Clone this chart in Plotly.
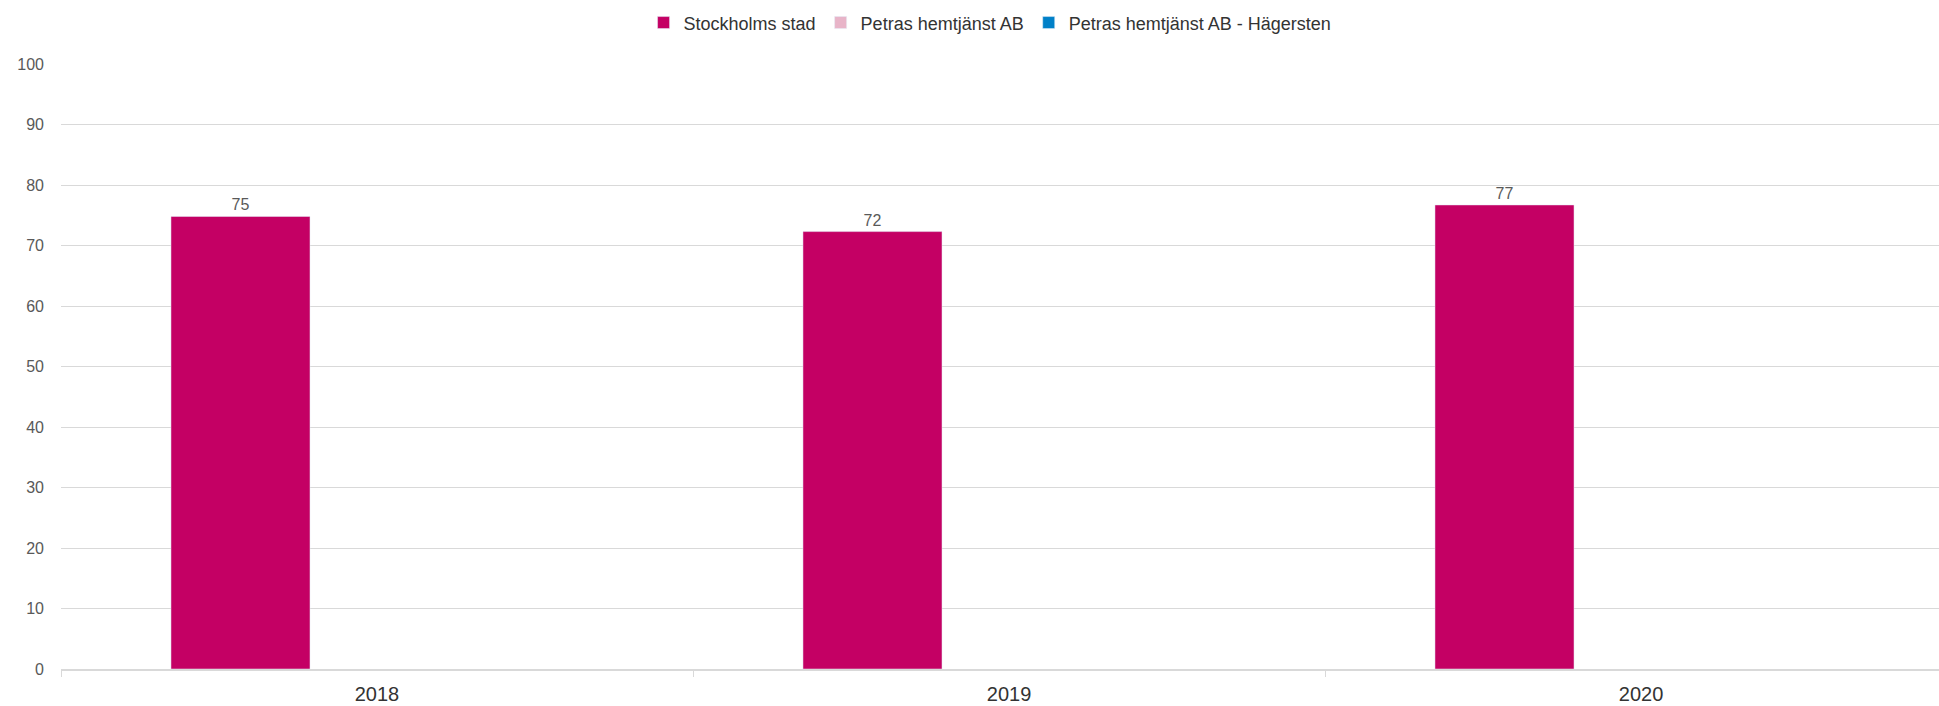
import plotly.graph_objects as go

years = ["2018", "2019", "2020"]
series_names = ["Stockholms stad", "Petras hemtjänst AB", "Petras hemtjänst AB - Hägersten"]
stockholm = [74.8, 72.3, 76.7]
petras = [None, None, None]
hagersten = [None, None, None]
colors = ["#C40064", "#E8B4C8", "#0080C8"]

fig = go.Figure()
for name, vals, col in zip(series_names, [stockholm, petras, hagersten], colors):
    fig.add_trace(go.Bar(
        x=years, y=vals, name=name, marker_color=col,
        width=0.22, offset=-0.326,
        text=[None if v is None else f"{v:.0f}" for v in vals],
        textposition="outside", cliponaxis=False,
        textfont=dict(size=16, color="#595959"),
    ))

fig.update_layout(
    width=1939, height=706,
    barmode="group",
    plot_bgcolor="white", paper_bgcolor="white",
    font=dict(family="Liberation Sans, Arial, sans-serif", color="#595959"),
    margin=dict(l=61, r=0, t=64, b=37, autoexpand=False),
    showlegend=True,
    legend=dict(orientation="h", xref="container", x=0.5106, xanchor="center",
                y=1.068, yanchor="middle",
                font=dict(size=18, color="#333333"), itemwidth=30),
    # the original plot runs past the right edge, so the last category is cut short
    xaxis=dict(range=[-0.5, 2.4715], showgrid=False, showline=True, linecolor="#D9D9D9",
               linewidth=2, ticks="outside", tickson="boundaries", ticklen=6,
               tickcolor="#D9D9D9", tickfont=dict(size=20, color="#333333"),
               ticklabelstandoff=6),
    yaxis=dict(range=[0, 100], dtick=10, showgrid=True, gridcolor="#D9D9D9",
               zeroline=False, showline=False, ticks="", ticklabelstandoff=16,
               tickfont=dict(size=16, color="#595959")),
)

# the page body has a default 8px margin; drop it so the figure fills the window
fig.write_html("out.html", config={"displayModeBar": False},
               post_script="document.body.style.margin = '0';")
